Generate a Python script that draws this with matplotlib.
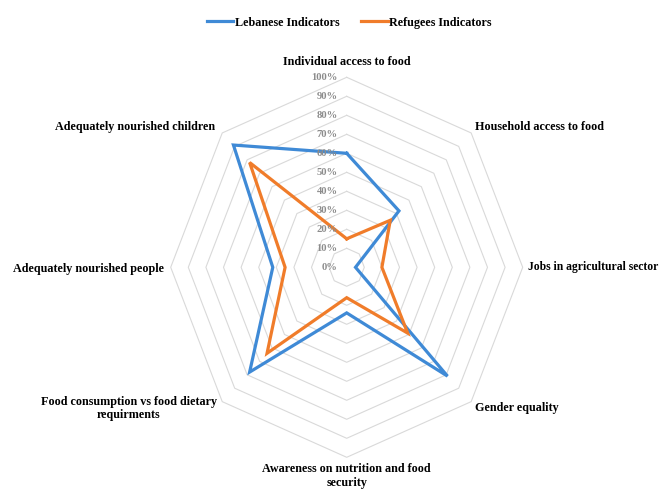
import numpy as np
import matplotlib
matplotlib.use("Agg")
import matplotlib.pyplot as plt
from matplotlib.lines import Line2D

categories = ["Individual access to food", "Household access to food",
              "Jobs in agricultural sector", "Gender equality",
              "Awareness on nutrition and food\nsecurity",
              "Food consumption vs food dietary\nrequirments",
              "Adequately nourished people", "Adequately nourished children"]
lebanese = [0.60, 0.42, 0.05, 0.81, 0.24, 0.78, 0.42, 0.91]
refugees = [0.15, 0.35, 0.20, 0.49, 0.16, 0.64, 0.35, 0.78]
tick_values = [0.0, 0.1, 0.2, 0.3, 0.4, 0.5, 0.6, 0.7, 0.8, 0.9, 1.0]
tick_labels = ["0%", "10%", "20%", "30%", "40%", "50%", "60%", "70%", "80%", "90%", "100%"]
series_names = ["Lebanese Indicators", "Refugees Indicators"]

BLUE = "#3F8AD6"
ORANGE = "#F07C2A"
FONT = "Liberation Serif"
FS = 8.7

W, H = 663, 495
fig = plt.figure(figsize=(W / 100, H / 100), dpi=100)

cx, cy = 346.7, 267.3          # centre in pixels from top-left
Rx, Ry = 176.0, 190.0          # pixel radius of 100%
lim = 1.35
left = (cx - lim * Rx) / W
bottom = (H - cy - lim * Ry) / H
ax = fig.add_axes([left, bottom, 2 * lim * Rx / W, 2 * lim * Ry / H])
ax.set_xlim(-lim, lim)
ax.set_ylim(-lim, lim)
ax.axis("off")

n = len(categories)
ang = np.arange(n) * 2 * np.pi / n
sx, sy = np.sin(ang), np.cos(ang)

def closed(v):
    v = np.asarray(v, float)
    x = v * sx
    y = v * sy
    return np.append(x, x[0]), np.append(y, y[0])

# grid octagons
for t in tick_values[1:]:
    gx, gy = closed([t] * n)
    ax.plot(gx, gy, color="#D9D9D9", lw=0.8, zorder=1, clip_on=False)

# series
lx, ly = closed(lebanese)
ax.plot(lx, ly, color=BLUE, lw=2.3, zorder=3, solid_joinstyle="miter", clip_on=False)
rx, ry = closed(refugees)
ax.plot(rx, ry, color=ORANGE, lw=2.3, zorder=3, solid_joinstyle="miter", clip_on=False)

# tick labels
for t, lab in zip(tick_values, tick_labels):
    ax.text(-9 / Rx, t, lab, ha="right", va="center", fontsize=7.6, fontweight="bold",
            color="#8C8C8C", family=FONT, zorder=4)

# category labels (positions in pixel offsets from centre, font size)
lab_pos = [
    (0, 205, "center", "center", FS),
    (128, 140, "left", "center", FS),
    (181, 0, "left", "center", 8.4),
    (128, -141, "left", "center", FS),
    (0, -196, "center", "top", FS),
    (-218, -141, "center", "center", FS),
    (-183, -2, "right", "center", FS),
    (-132, 140, "right", "center", FS),
]
for cat, (px, py, ha, va, fs) in zip(categories, lab_pos):
    ax.text(px / Rx, py / Ry, cat, ha=ha, va=va, fontsize=fs, fontweight="bold",
            family=FONT, multialignment="center", linespacing=1.15)

handles = [Line2D([], [], color=BLUE, lw=2.3), Line2D([], [], color=ORANGE, lw=2.3)]
fig.legend(handles, series_names, loc="center", bbox_to_anchor=(349 / W, 1 - 22.7 / H),
           ncol=2, frameon=False, prop={"family": FONT, "weight": "bold", "size": FS},
           handlelength=2.2, handletextpad=0.1, columnspacing=1.8)

fig.savefig("out.png", dpi=100)
